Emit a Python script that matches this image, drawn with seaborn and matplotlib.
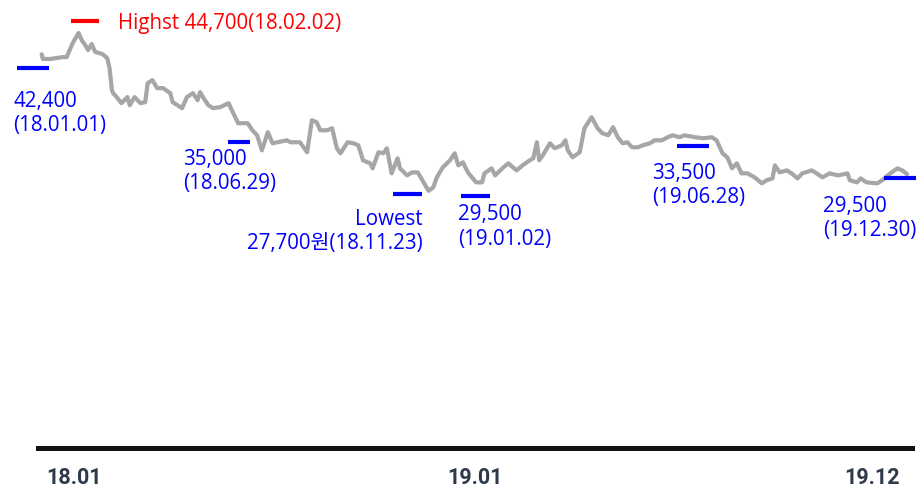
import matplotlib
matplotlib.use("Agg")
import pandas as pd
import matplotlib.pyplot as plt
import matplotlib.dates as mdates
import matplotlib.ticker as mticker
import matplotlib.transforms as mtransforms
import seaborn as sns

# --- daily close (won) ---
dates = [
    "2018-01-02", "2018-01-03", "2018-01-09", "2018-01-20", "2018-01-23", "2018-01-28",
    "2018-02-02", "2018-02-05", "2018-02-07", "2018-02-10", "2018-02-13", "2018-02-16",
    "2018-02-22", "2018-02-26", "2018-02-28", "2018-03-02", "2018-03-03", "2018-03-06",
    "2018-03-10", "2018-03-15", "2018-03-17", "2018-03-21", "2018-03-26", "2018-03-30",
    "2018-04-01", "2018-04-05", "2018-04-09", "2018-04-14", "2018-04-20", "2018-04-22",
    "2018-04-30", "2018-05-04", "2018-05-09", "2018-05-13", "2018-05-15", "2018-05-18",
    "2018-05-22", "2018-05-26", "2018-06-01", "2018-06-08", "2018-06-12", "2018-06-16",
    "2018-06-24", "2018-06-28", "2018-07-02", "2018-07-06", "2018-07-11", "2018-07-15",
    "2018-07-19", "2018-07-27", "2018-07-30", "2018-08-07", "2018-08-13", "2018-08-17",
    "2018-08-21", "2018-08-24", "2018-08-30", "2018-09-03", "2018-09-07", "2018-09-10",
    "2018-09-16", "2018-09-21", "2018-09-25", "2018-09-29", "2018-10-05", "2018-10-07",
    "2018-10-12", "2018-10-16", "2018-10-19", "2018-10-23", "2018-10-28", "2018-10-30",
    "2018-11-05", "2018-11-09", "2018-11-14", "2018-11-23", "2018-11-27", "2018-11-30",
    "2018-12-05", "2018-12-11", "2018-12-15", "2018-12-18", "2018-12-22", "2018-12-26",
    "2019-01-02", "2019-01-07", "2019-01-09", "2019-01-15", "2019-01-18", "2019-01-24",
    "2019-01-29", "2019-02-05", "2019-02-10", "2019-02-16", "2019-02-19", "2019-02-22",
    "2019-02-24", "2019-02-27", "2019-03-05", "2019-03-09", "2019-03-15", "2019-03-18",
    "2019-03-20", "2019-03-24", "2019-03-30", "2019-04-03", "2019-04-09", "2019-04-14",
    "2019-04-18", "2019-04-23", "2019-04-27", "2019-05-01", "2019-05-05", "2019-05-09",
    "2019-05-13", "2019-05-18", "2019-05-22", "2019-05-28", "2019-06-01", "2019-06-07",
    "2019-06-12", "2019-06-16", "2019-06-22", "2019-06-26", "2019-07-05", "2019-07-12",
    "2019-07-19", "2019-07-23", "2019-07-28", "2019-08-01", "2019-08-05", "2019-08-09",
    "2019-08-13", "2019-08-18", "2019-08-24", "2019-08-30", "2019-09-03", "2019-09-08",
    "2019-09-10", "2019-09-14", "2019-09-20", "2019-09-24", "2019-09-29", "2019-10-03",
    "2019-10-11", "2019-10-15", "2019-10-20", "2019-10-26", "2019-11-02", "2019-11-10",
    "2019-11-12", "2019-11-18", "2019-11-21", "2019-11-26", "2019-12-05", "2019-12-09",
    "2019-12-16", "2019-12-22", "2019-12-26", "2019-12-30",
]
prices = [
    42400, 41900, 41900, 42100, 42100, 43600,
    44700, 43840, 43510, 42860, 43510, 42650,
    42430, 42000, 40920, 38540, 38220, 37790,
    37140, 37790, 36920, 37790, 37140, 37250,
    39300, 39620, 38760, 38760, 38220, 37250,
    36600, 37790, 38220, 37460, 38330, 37680,
    36920, 36600, 36710, 37140, 36060, 34980,
    34980, 34220, 33680, 32060, 34010, 32820,
    32930, 33140, 32930, 32930, 31850, 35300,
    35090, 34220, 34220, 34440, 32280, 31740,
    32930, 32820, 32600, 30980, 30660, 30120,
    31850, 31740, 32280, 29580, 31200, 30120,
    29360, 29680, 29680, 27700, 28070, 29150,
    30230, 30980, 31740, 30440, 30770, 29690,
    28610, 28610, 29580, 30120, 29360, 30120,
    30660, 29900, 30440, 30980, 31200, 32930,
    30980, 31520, 32820, 32280, 32600, 33140,
    32060, 31310, 31850, 34440, 35630, 34440,
    33900, 33680, 34550, 33470, 32820, 32930,
    32390, 32390, 32600, 32820, 33140, 33140,
    33470, 33680, 33470, 33680, 33470, 33360,
    33470, 33140, 31740, 31310, 30120, 30660,
    29580, 29580, 29150, 28500, 28830, 29040,
    30440, 29690, 29900, 29580, 29040, 29580,
    29900, 29580, 29150, 29580, 29360, 29580,
    28830, 28610, 29040, 28610, 28500, 28830,
    29580, 30120, 29900, 29500,
]

# --- callouts ---
note_dates = ["2018-01-01", "2018-06-29", "2018-11-23", "2019-01-02", "2019-06-28", "2019-12-30"]
note_prices = [42400, 35000, 27700, 29500, 33500, 29500]
note_texts = [
    "42,400\n(18.01.01)",
    "35,000\n(18.06.29)",
    "Lowest\n27,700원(18.11.23)",
    "29,500\n(19.01.02)",
    "33,500\n(19.06.28)",
    "29,500\n(19.12.30)",
]
high_date = "2018-02-02"
high_price = 44700
high_text = "Highst 44,700(18.02.02)"

tick_dates = ["2018-01-01", "2019-01-01", "2019-12-01"]
tick_labels = ["18.01", "19.01", "19.12"]

# layout of callouts, in pixels (x right, y up) relative to the data point
dash_off = [(-7.6, -14), (-14.2, -18.7), (-21.2, -2.9), (-1.6, -21.6), (6, -8.7), (-7.3, -4.2)]
dash_len = [32, 23, 29, 29, 32, 32]
text_off = [(-27.2, -59.4), (-70.9, -48.7), (-5.8, -40.7), (-18.1, -52.9), (-35.1, -48.5), (-84, -44.3)]
text_ha = ["left", "left", "right", "left", "left", "left"]

BLUE = "#0000ff"
RED = "#ff0000"
LINE = "#a6a6a6"
TEXT_FONT = ["Open Sans", "Noto Sans CJK KR", "DejaVu Sans"]

sns.set_style("white")
plt.rcParams["font.family"] = TEXT_FONT

df = pd.DataFrame({"date": pd.to_datetime(dates), "price": prices})

fig = plt.figure(figsize=(9.2, 4.9), dpi=100)
ax = fig.add_axes([38 / 920, 42 / 490, 874 / 920, 448 / 490])

sns.lineplot(data=df, x="date", y="price", ax=ax, color=LINE, linewidth=3.0)

start = mdates.date2num(pd.Timestamp("2018-01-02"))
ax.set_xlim(start - 3.1, start + 731.2)
ax.set_ylim(0, 48250)


def px_shift(dx, dy):
    return ax.transData + mtransforms.ScaledTranslation(dx / 100, dy / 100, fig.dpi_scale_trans)


for d, p, txt, (ddx, ddy), dl, (tdx, tdy), ha in zip(
        note_dates, note_prices, note_texts, dash_off, dash_len, text_off, text_ha):
    xd = mdates.date2num(pd.Timestamp(d))
    ax.plot([xd], [p], marker="_", markersize=dl * 0.72, markeredgewidth=3.0,
            color=BLUE, transform=px_shift(ddx, ddy), clip_on=False)
    ax.annotate(txt, xy=(xd, p), xytext=(tdx, tdy), textcoords="offset pixels",
                ha=ha, va="center", multialignment=ha, color=BLUE,
                fontsize=14.8, linespacing=1.22)

xh = mdates.date2num(pd.Timestamp(high_date))
ax.plot([xh], [high_price], marker="_", markersize=28 * 0.72, markeredgewidth=3.0,
        color=RED, transform=px_shift(6.6, 12.3), clip_on=False)
ax.annotate(high_text, xy=(xh, high_price), xytext=(39.7, 9.7), textcoords="offset pixels",
            ha="left", va="center", color=RED, fontsize=14.8)

# axis styling
for side in ["top", "right", "left"]:
    ax.spines[side].set_visible(False)
ax.spines["bottom"].set_linewidth(3.6)
ax.spines["bottom"].set_color("#111111")
ax.set_yticks([])
ax.set_xlabel("")
ax.set_ylabel("")

ax.set_xticks([mdates.date2num(pd.Timestamp(t)) for t in tick_dates])
ax.set_xticklabels(tick_labels)
ax.xaxis.set_minor_locator(mticker.MultipleLocator(11.8))
ax.tick_params(axis="x", which="major", length=0, pad=14, labelsize=15.5,
               labelcolor="#2e3a4b")
ax.tick_params(axis="x", which="minor", length=2, width=0.8, color="#888888",
               direction="out")
for lab in ax.get_xticklabels():
    lab.set_fontfamily(["Roboto", "DejaVu Sans"])
    lab.set_fontweight("bold")
first = ax.get_xticklabels()[0]
first.set_horizontalalignment("left")
first.set_transform(first.get_transform()
                    + mtransforms.ScaledTranslation(6 / 100, 0, fig.dpi_scale_trans))

fig.savefig("out.png", dpi=100)
